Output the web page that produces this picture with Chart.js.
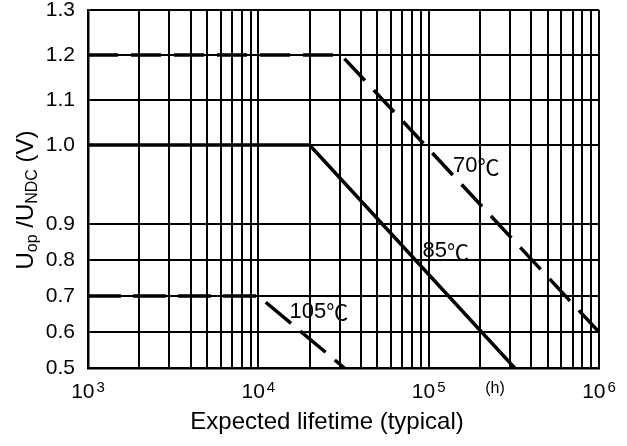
<!DOCTYPE html>
<html>
<head>
<meta charset="utf-8">
<script src="https://cdn.jsdelivr.net/npm/chart.js@4.4.1/dist/chart.umd.min.js"></script>
<style>
  html, body { margin: 0; padding: 0; background: #fff; }
</style>
</head>
<body>
<canvas id="chart" width="627" height="446"></canvas>
<script>
// corners of each curve: lifetime in hours and U_op/U_NDC
var hours70 = [1000, 30600, 1000000];
var ratio70 = [1.2, 1.2, 0.6];
var hours85 = [1000, 20000, 320000];
var ratio85 = [1.0, 1.0, 0.5];
var hours105 = [1000, 10000, 32000];
var ratio105 = [0.7, 0.7, 0.5];

var curveTemps = ['70', '85', '105'];
var curveLabelHours = [190000, 126000, 22700];
var curveLabelRatios = [0.973, 0.824, 0.657];

var xExponents = [3, 4, 5, 6];
var yTicks = [0.5, 0.6, 0.7, 0.8, 0.9, 1.0, 1.1, 1.2, 1.3];
var unitHours = 245000; // where the "(h)" sits

// the datasheet y axis is not linear: 0.5-0.9 and 1.0-1.3 are evenly spaced, with a long step between
var yBreakValues = [0.5, 0.9, 1.0, 1.3];
var yBreakFractions = [0, 0.402, 0.623, 1];

var FONT = "'Liberation Sans', Arial, sans-serif";
var CJK = "'Noto Sans CJK SC', sans-serif";

function valueToFraction(v) {
  for (var i = 1; i < yBreakValues.length; i++) {
    if (v <= yBreakValues[i] || i == yBreakValues.length - 1) {
      var t = (v - yBreakValues[i - 1]) / (yBreakValues[i] - yBreakValues[i - 1]);
      return yBreakFractions[i - 1] + t * (yBreakFractions[i] - yBreakFractions[i - 1]);
    }
  }
}
function fractionToValue(f) {
  for (var i = 1; i < yBreakFractions.length; i++) {
    if (f <= yBreakFractions[i] || i == yBreakFractions.length - 1) {
      var t = (f - yBreakFractions[i - 1]) / (yBreakFractions[i] - yBreakFractions[i - 1]);
      return yBreakValues[i - 1] + t * (yBreakValues[i] - yBreakValues[i - 1]);
    }
  }
}

class BrokenLinearScale extends Chart.LinearScale {
  getPixelForValue(value) {
    return this.getPixelForDecimal(valueToFraction(value));
  }
  getValueForPixel(pixel) {
    return fractionToValue(this.getDecimalForPixel(pixel));
  }
}
BrokenLinearScale.id = 'brokenLinear';
BrokenLinearScale.defaults = Chart.LinearScale.defaults;
Chart.register(BrokenLinearScale);

// grid: 1..9 in every decade
var gridHours = [];
for (var e = xExponents[0]; e < xExponents[xExponents.length - 1]; e++) {
  for (var m = 1; m < 10; m++) gridHours.push(m * Math.pow(10, e));
}
gridHours.push(Math.pow(10, xExponents[xExponents.length - 1]));

function points(xs, ys) {
  return xs.map((x, i) => ({ x: x, y: ys[i] }));
}

var textPlugin = {
  id: 'datasheetText',
  afterDraw(chart) {
    var ctx = chart.ctx;
    var xs = chart.scales.x, ys = chart.scales.y, area = chart.chartArea;
    ctx.save();
    ctx.fillStyle = '#000';
    ctx.textAlign = 'left';
    ctx.textBaseline = 'alphabetic';

    // x tick labels with raised exponent
    xExponents.forEach(function (e) {
      var px = xs.getPixelForValue(Math.pow(10, e));
      ctx.font = '21px ' + FONT;
      var w1 = ctx.measureText('10').width;
      ctx.font = '15px ' + FONT;
      var w2 = ctx.measureText(String(e)).width;
      var left = px - (w1 + w2 + 2) / 2;
      ctx.font = '21px ' + FONT;
      ctx.fillText('10', left, area.bottom + 30);
      ctx.font = '15px ' + FONT;
      ctx.fillText(String(e), left + w1 + 2, area.bottom + 24);
    });

    ctx.font = '16px ' + FONT;
    ctx.textAlign = 'center';
    ctx.textBaseline = 'middle';
    ctx.fillText('(h)', xs.getPixelForValue(unitHours), area.bottom + 21);

    // curve names: number + ℃
    ctx.textAlign = 'left';
    curveTemps.forEach(function (t, i) {
      ctx.font = '22px ' + FONT;
      var w1 = ctx.measureText(t).width;
      ctx.font = '22px ' + CJK;
      var w2 = ctx.measureText('℃').width;
      var left = xs.getPixelForValue(curveLabelHours[i]) - (w1 + w2) / 2;
      var y = ys.getPixelForValue(curveLabelRatios[i]);
      ctx.font = '22px ' + FONT;
      ctx.fillText(t, left, y);
      ctx.font = '22px ' + CJK;
      ctx.fillText('℃', left + w1, y);
    });

    // x title
    ctx.textAlign = 'center';
    ctx.font = '24px ' + FONT;
    ctx.fillText('Expected lifetime (typical)', 327, area.bottom + 54);

    // y title with subscripts
    var parts = [['U', false], ['op', true], [' /', false], ['U', false], ['NDC', true], [' (V)', false]];
    var total = 0;
    parts.forEach(function (p) {
      ctx.font = (p[1] ? '16px ' : '24px ') + FONT;
      total += ctx.measureText(p[0]).width;
    });
    ctx.translate(25, 200);
    ctx.rotate(-Math.PI / 2);
    ctx.textAlign = 'left';
    ctx.textBaseline = 'alphabetic';
    var x = -total / 2;
    parts.forEach(function (p) {
      ctx.font = (p[1] ? '16px ' : '24px ') + FONT;
      ctx.fillText(p[0], x, p[1] ? 12 : 8);
      x += ctx.measureText(p[0]).width;
    });
    ctx.restore();
  }
};

var chart = new Chart(document.getElementById('chart'), {
  type: 'line',
  data: {
    datasets: [
      {
        label: '70℃',
        data: points(hours70, ratio70),
        borderColor: '#000',
        borderWidth: 3.5,
        borderDash: [30, 13]
      },
      {
        label: '85℃',
        data: points(hours85, ratio85),
        borderColor: '#000',
        borderWidth: 3.5
      },
      {
        label: '105℃',
        data: points(hours105, ratio105),
        borderColor: '#000',
        borderWidth: 3.5,
        borderDash: [33, 12]
      }
    ]
  },
  options: {
    responsive: false,
    animation: false,
    devicePixelRatio: 1,
    layout: { padding: { left: 0, right: 28, top: 10, bottom: 78 } },
    plugins: { legend: { display: false }, tooltip: { enabled: false } },
    elements: { point: { radius: 0 }, line: { tension: 0, fill: false } },
    scales: {
      x: {
        type: 'logarithmic',
        min: 1000,
        max: 1000000,
        afterBuildTicks: function (scale) {
          scale.ticks = gridHours.map(v => ({ value: v }));
        },
        afterFit: function (scale) {
          scale.height = 0;
          scale.paddingLeft = 0;
          scale.paddingRight = 0;
        },
        ticks: { display: false },
        grid: { color: '#000', lineWidth: 2, drawTicks: false },
        border: { color: '#000', width: 2.5 }
      },
      y: {
        type: 'brokenLinear',
        min: 0.5,
        max: 1.3,
        afterBuildTicks: function (scale) {
          scale.ticks = yTicks.map(v => ({ value: v }));
        },
        afterFit: function (scale) {
          scale.width = 88;
          scale.paddingTop = 0;
          scale.paddingBottom = 0;
        },
        ticks: {
          padding: 13,
          color: '#000',
          font: { family: FONT, size: 21 },
          callback: v => v.toFixed(1)
        },
        grid: { color: '#000', lineWidth: 2, drawTicks: false },
        border: { color: '#000', width: 2.5 }
      }
    }
  },
  plugins: [textPlugin]
});
</script>
</body>
</html>
